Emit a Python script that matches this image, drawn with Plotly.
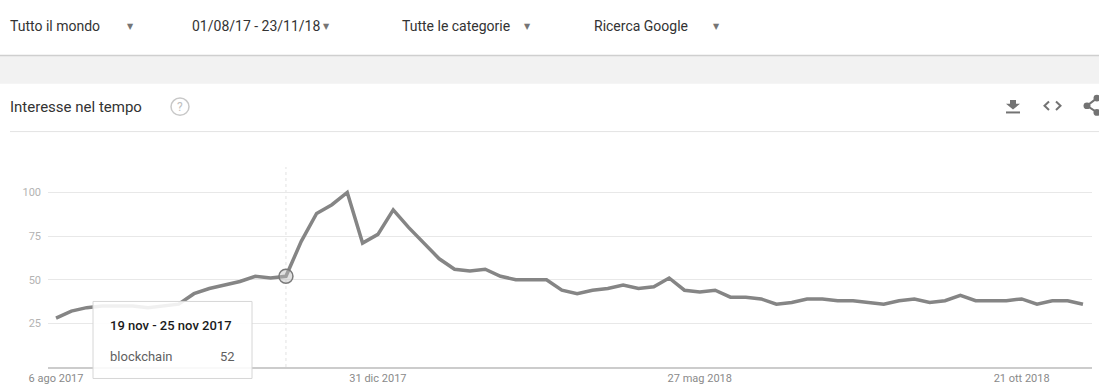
import plotly.graph_objects as go
import pandas as pd

# ---- data ----
start_week = "2017-08-06"
values = [28, 32, 34, 35, 35, 35, 34, 35, 36, 42, 45, 47, 49, 52, 51, 52,
          72, 88, 93, 100, 71, 76, 90, 80, 71, 62, 56, 55, 56, 52, 50, 50,
          50, 44, 42, 44, 45, 47, 45, 46, 51, 44, 43, 44, 40, 40, 39, 36,
          37, 39, 39, 38, 38, 37, 36, 38, 39, 37, 38, 41, 38, 38, 38, 39,
          36, 38, 38, 36]
weeks = pd.date_range(start_week, periods=len(values), freq="7D")
series_name = "blockchain"
x_tick_vals = ["2017-08-06", "2017-12-31", "2018-05-27", "2018-10-21"]
x_tick_text = ["6 ago 2017", "31 dic 2017", "27 mag 2018", "21 ott 2018"]
y_tick_vals = [25, 50, 75, 100]
hover_week = "2017-11-19"
hover_label = "19 nov - 25 nov 2017"
header_items = ["Tutto il mondo", "01/08/17 - 23/11/18", "Tutte le categorie", "Ricerca Google"]
title_text = "Interesse nel tempo"

hover_idx = list(weeks).index(pd.Timestamp(hover_week))
hover_val = values[hover_idx]

# ---- layout geometry (pixels) ----
W, H = 1099, 392
L, R, T, B = 48, 7, 167, 16
PW, PH = W - L - R, H - T - B


def xp(px):
    return (px - L) / PW


def yp(py):
    return (H - B - py) / PH


FONT = "Roboto, 'Open Sans', Arial, sans-serif"
fig = go.Figure()

fig.add_trace(go.Scatter(
    x=weeks, y=values, mode="lines", name=series_name,
    line=dict(color="#858585", width=3.5), hoverinfo="skip", showlegend=False))

fig.add_trace(go.Scatter(
    x=[weeks[hover_idx]], y=[hover_val], mode="markers", showlegend=False,
    marker=dict(size=14, color="rgba(190,190,190,0.45)",
                line=dict(color="#7a7a7a", width=1.5)), hoverinfo="skip"))

shapes = []
annotations = []

# header band
shapes.append(dict(type="rect", xref="paper", yref="paper", x0=xp(0), x1=xp(W),
                   y0=yp(80), y1=yp(50.5), fillcolor="#f2f2f2", line=dict(width=0), layer="below"))
shapes.append(dict(type="line", xref="paper", yref="paper", x0=xp(0), x1=xp(W),
                   y0=yp(50.5), y1=yp(50.5), line=dict(color="#cfcfcf", width=1.5)))
# title divider
shapes.append(dict(type="line", xref="paper", yref="paper", x0=xp(10), x1=xp(W),
                   y0=yp(130), y1=yp(130), line=dict(color="#e3e3e3", width=1)))

# header texts with dropdown arrows
header_x = [8, 190, 400, 592]
arrow_x = [130, 326, 527, 716]
for hx, ax, txt in zip(header_x, arrow_x, header_items):
    annotations.append(dict(x=xp(hx), y=yp(20), xref="paper", yref="paper", text=txt,
                            showarrow=False, xanchor="left", yanchor="middle",
                            font=dict(family=FONT, size=14, color="#333333")))
    annotations.append(dict(x=xp(ax), y=yp(20), xref="paper", yref="paper", text="▼",
                            showarrow=False, xanchor="center", yanchor="middle",
                            font=dict(family="DejaVu Sans", size=8, color="#757575")))

# title + help icon
annotations.append(dict(x=xp(8), y=yp(104), xref="paper", yref="paper", text=title_text,
                        showarrow=False, xanchor="left", yanchor="middle",
                        font=dict(family=FONT, size=15, color="#333333")))
shapes.append(dict(type="circle", xref="paper", yref="paper", x0=xp(171), x1=xp(189),
                   y0=yp(95), y1=yp(113), line=dict(color="#c8c8c8", width=1.5)))
annotations.append(dict(x=xp(180), y=yp(104), xref="paper", yref="paper", text="?",
                        showarrow=False, xanchor="center", yanchor="middle",
                        font=dict(family=FONT, size=12, color="#c0c0c0")))

# right icons: download, embed, share
def path(points, close=True):
    s = "M " + " L ".join(f"{xp(a):.5f},{yp(b):.5f}" for a, b in points)
    return s + (" Z" if close else "")

shapes.append(dict(type="path", xref="paper", yref="paper",
                   path=path([(1010, 97), (1016, 97), (1016, 101), (1020, 101), (1013, 107), (1006, 101), (1010, 101)]),
                   fillcolor="#737373", line=dict(width=0)))
shapes.append(dict(type="line", xref="paper", yref="paper", x0=xp(1006), x1=xp(1020),
                   y0=yp(110), y1=yp(110), line=dict(color="#737373", width=2)))
shapes.append(dict(type="path", xref="paper", yref="paper",
                   path=path([(1049, 98.5), (1044.5, 103), (1049, 107.5)], close=False),
                   line=dict(color="#737373", width=2)))
shapes.append(dict(type="path", xref="paper", yref="paper",
                   path=path([(1056, 98.5), (1060.5, 103), (1056, 107.5)], close=False),
                   line=dict(color="#737373", width=2)))
shapes.append(dict(type="path", xref="paper", yref="paper",
                   path=path([(1097, 95), (1087, 103), (1097, 110)], close=False),
                   line=dict(color="#737373", width=2)))
for cx, cy in [(1087, 103), (1097, 95), (1097, 110)]:
    shapes.append(dict(type="circle", xref="paper", yref="paper", x0=xp(cx - 3.5), x1=xp(cx + 3.5),
                       y0=yp(cy + 3.5), y1=yp(cy - 3.5), fillcolor="#737373", line=dict(width=0)))

# hover guide line
shapes.append(dict(type="line", xref="x", yref="paper", x0=weeks[hover_idx], x1=weeks[hover_idx],
                   y0=0, y1=1, line=dict(color="#e2e2e2", width=1, dash="dot"), layer="below"))

# tooltip
shapes.append(dict(type="rect", xref="paper", yref="paper", x0=xp(93), x1=xp(252),
                   y0=yp(388), y1=yp(307.5), fillcolor="rgba(255,255,255,0.88)",
                   line=dict(color="#d6d6d6", width=1), layer="above"))
annotations.append(dict(x=xp(108), y=yp(333), xref="paper", yref="paper", text=hover_label,
                        showarrow=False, xanchor="left", yanchor="middle",
                        font=dict(family=FONT, size=13, color="#1a1a1a", weight=500)))
annotations.append(dict(x=xp(108), y=yp(365), xref="paper", yref="paper", text=series_name,
                        showarrow=False, xanchor="left", yanchor="middle",
                        font=dict(family=FONT, size=13, color="#5f5f5f")))
annotations.append(dict(x=xp(237), y=yp(365), xref="paper", yref="paper", text=str(hover_val),
                        showarrow=False, xanchor="right", yanchor="middle",
                        font=dict(family=FONT, size=13, color="#5f5f5f")))

fig.update_layout(
    width=W, height=H,
    margin=dict(l=L, r=R, t=T, b=B, pad=0),
    paper_bgcolor="white", plot_bgcolor="white",
    shapes=shapes, annotations=annotations,
    showlegend=False,
    xaxis=dict(type="date", range=["2017-08-02 08:00", "2018-11-22 03:00"],
               tickmode="array", tickvals=x_tick_vals, ticktext=x_tick_text,
               showgrid=False, zeroline=False, showline=True, linecolor="#cccccc", linewidth=2,
               ticks="", tickfont=dict(family=FONT, size=11, color="#8a8a8a")),
    yaxis=dict(range=[0, 114.6], tickmode="array", tickvals=y_tick_vals,
               showgrid=True, gridcolor="#e8e8e8", gridwidth=1, zeroline=False,
               ticks="", ticklabelstandoff=6,
               tickfont=dict(family=FONT, size=11, color="#b3b3b3")),
)

fig.write_html("out.html", config={"displayModeBar": False},
               post_script="document.body.style.margin='0';document.body.style.overflow='hidden';")
